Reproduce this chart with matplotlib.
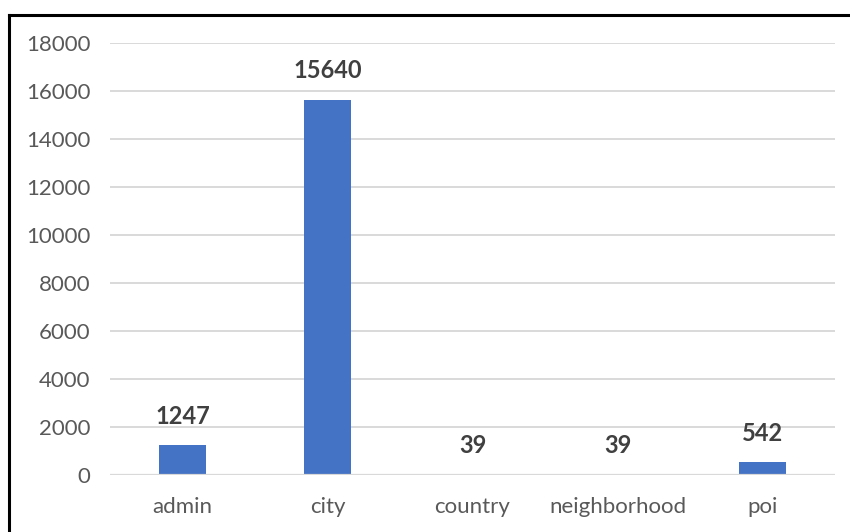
import matplotlib
matplotlib.use("Agg")
import matplotlib.pyplot as plt
from matplotlib.lines import Line2D

categories = ["admin", "city", "country", "neighborhood", "poi"]
counts = [1247, 15640, 39, 39, 542]
yticks = [0, 2000, 4000, 6000, 8000, 10000, 12000, 14000, 16000, 18000]

plt.rcParams['font.family'] = ['Lato', 'DejaVu Sans']

fig = plt.figure(figsize=(8.5, 5.32), dpi=100)
ax = fig.add_axes([110/850, 57/532, 725/850, 432/532])

x = range(len(categories))
ax.bar(x, counts, width=0.32, color="#4472C4", zorder=3)

for xi, v in zip(x, counts):
    ax.annotate(str(v), (xi, v), xytext=(0, 12.5), textcoords="offset points",
                ha="center", va="bottom", fontsize=17, fontweight="bold", color="#404040")

ax.set_xlim(-0.5, len(categories) - 0.5)
ax.set_ylim(0, 18000)
ax.set_yticks(yticks)
ax.set_xticks(list(x))
ax.set_xticklabels(categories)
ax.grid(axis="y", color="#d9d9d9", linewidth=1.4, zorder=0)
# horizontal axis line sits over the bars, hiding the tiny 39 bars
ax.axhline(0, color="#d9d9d9", linewidth=1.6, zorder=4)
ax.tick_params(axis="both", length=0, labelsize=16, labelcolor="#595959")
ax.tick_params(axis="y", pad=14)
ax.tick_params(axis="x", pad=16)
for s in ax.spines.values():
    s.set_visible(False)

# frame around the chart (only top and left edges visible in the crop)
fig.add_artist(Line2D([9/850, 9/850], [0, 1 - 14.5/532], color="black", linewidth=2.2))
fig.add_artist(Line2D([9/850, 1], [1 - 14.5/532, 1 - 14.5/532], color="black", linewidth=2.2))

fig.savefig("out.png", dpi=100)
